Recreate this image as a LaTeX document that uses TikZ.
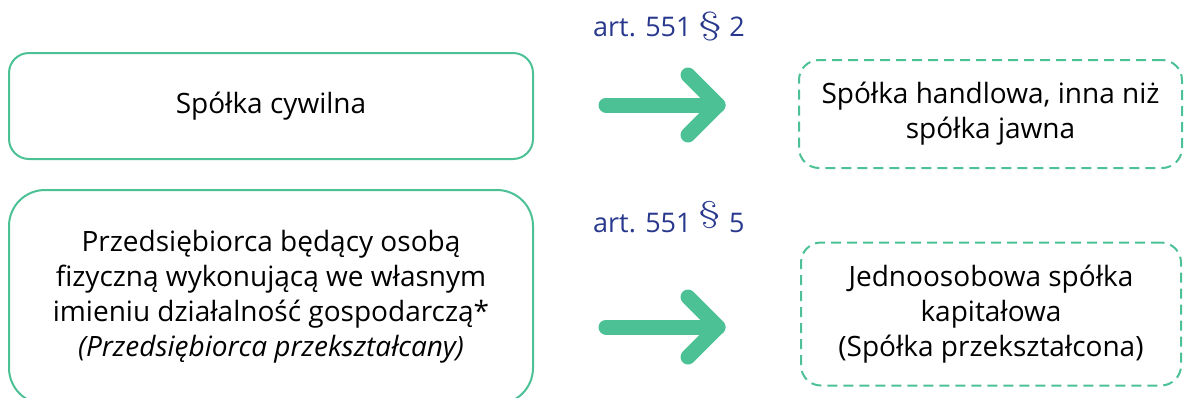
\documentclass[tikz,border=0pt]{standalone}
\usepackage{graphicx}
\usepackage{fontspec}
\setmainfont{Open Sans}
\newfontfamily\sectfont{Latin Modern Roman}
\definecolor{boxgreen}{RGB}{76,193,149}
\definecolor{artblue}{RGB}{40,56,140}
\newcommand{\widesect}[1]{\scalebox{1.55}[1]{\sectfont\fontsize{#1}{#1}\selectfont §}}
\begin{document}
\begin{tikzpicture}[x=1pt,y=-1pt,
  box/.style={draw=boxgreen, line width=2pt, align=center, inner sep=0pt,
    text=black, font=\fontsize{28}{35}\selectfont},
  srcbox/.style={box, rounded corners=20pt},
  bigsrcbox/.style={box, rounded corners=36pt},
  dstbox/.style={box, dash pattern=on 10pt off 6pt, rounded corners=20pt},
  bigarrow/.style={draw=boxgreen, line width=15pt, line cap=round, line join=round},
  artlabel/.style={text=artblue, inner sep=0pt, font=\fontsize{27}{30}\selectfont}
]
\useasboundingbox (0,0) rectangle (1185,397);

% source forms
\node[srcbox, minimum width=524pt, minimum height=106pt] (civil) at (271,106)
  {Spółka cywilna};
\node[bigsrcbox, minimum width=524pt, minimum height=214pt] (trader) at (271,297)
  {Przedsiębiorca będący osobą\\
   fizyczną wykonującą we własnym\\
   imieniu działalność gospodarczą*\\
   \itshape (Przedsiębiorca przekształcany)};

% target forms
\node[dstbox, minimum width=383pt, minimum height=108pt] (commercial) at (990.5,114)
  {Spółka handlowa, inna niż\\ spółka jawna};
\node[dstbox, minimum width=380pt, minimum height=143pt] (capital) at (991,314)
  {Jednoosobowa spółka\\ kapitałowa\\ (Spółka przekształcona)};

% legal basis labels
\node[artlabel, anchor=base west] (art2) at (593,36.7)
  {art. 551\hspace{7pt}\raisebox{2.5pt}{\widesect{32}}\hspace{8pt}2};
\node[artlabel, anchor=base west] (art5) at (593,232)
  {art. 551\hspace{7pt}\raisebox{10pt}{\widesect{30}}\hspace{9pt}5};

% transformation arrows
\coordinate (a1s) at (606,105);
\coordinate (a1t) at (718,105);
\coordinate (a1u) at (688,75);
\coordinate (a1d) at (688,135);
\draw[bigarrow] (a1s) -- (a1t);
\draw[bigarrow] (a1u) -- (a1t) -- (a1d);

\coordinate (a2s) at (606,327);
\coordinate (a2t) at (718,327);
\coordinate (a2u) at (688,297);
\coordinate (a2d) at (688,357);
\draw[bigarrow] (a2s) -- (a2t);
\draw[bigarrow] (a2u) -- (a2t) -- (a2d);
\end{tikzpicture}
\end{document}
